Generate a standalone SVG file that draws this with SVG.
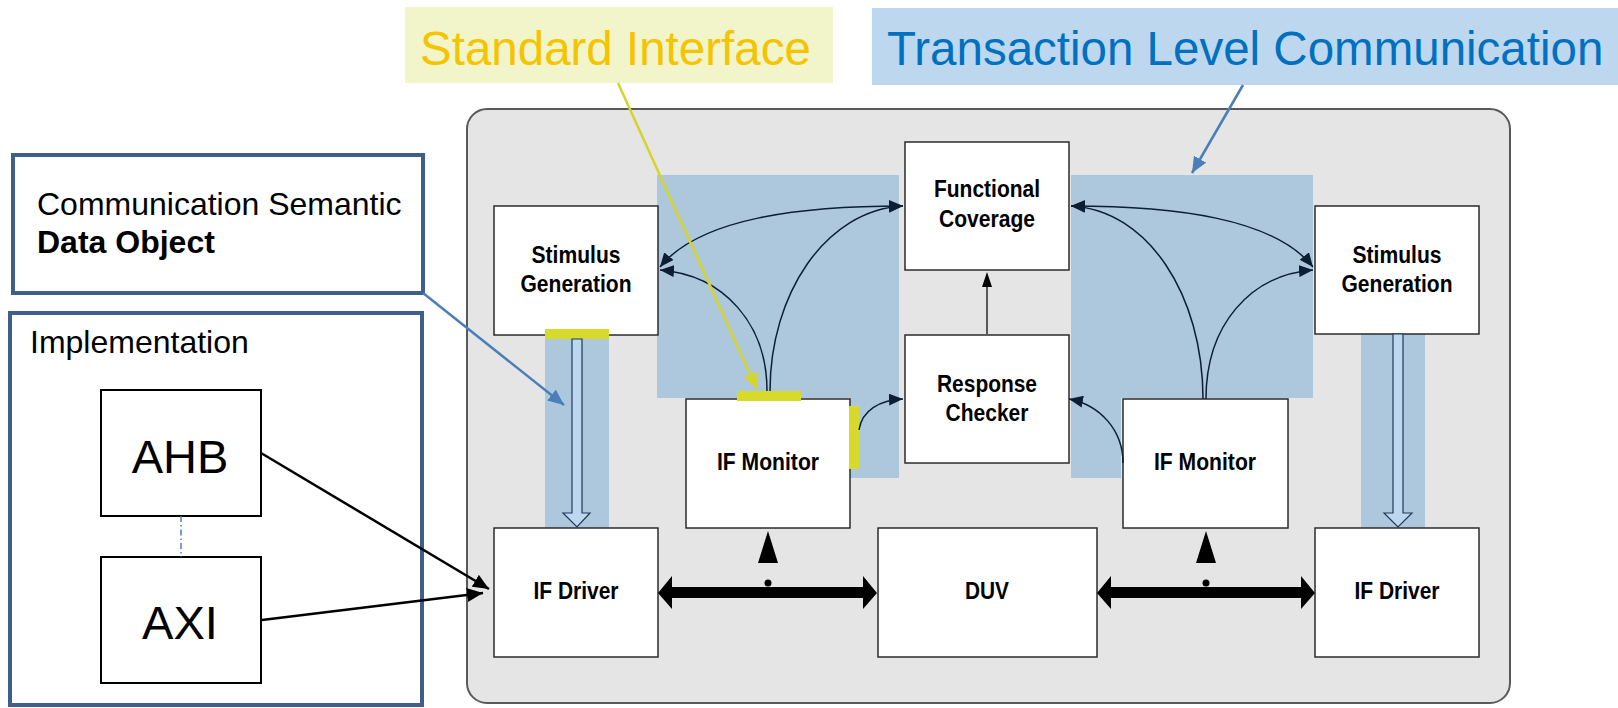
<svg xmlns="http://www.w3.org/2000/svg" width="1618" height="708" viewBox="0 0 1618 708">
<style>
.node{fill:#ffffff;stroke:#2b2b2b;stroke-width:1.5}
.lbl{font-family:"Liberation Sans",Arial,sans-serif;font-weight:bold;font-size:24px;fill:#000;text-anchor:middle}
.big{font-family:"Liberation Sans",Arial,sans-serif;font-size:47.5px}
.side{font-family:"Liberation Sans",Arial,sans-serif;font-size:32px;fill:#000}
.frame{fill:#ffffff;stroke:#3E5F8C;stroke-width:4}
.shade{fill:#ADC7DC}
.ybar{fill:#D8DA2B}
.curve{fill:none;stroke:#0B1E33;stroke-width:1.5}
.chan{fill:#BDD7EE;stroke:#1F3A5A;stroke-width:1.2}
.bus{fill:#000}
</style>
<defs>
<marker id="nv" markerUnits="userSpaceOnUse" markerWidth="16" markerHeight="12" refX="14" refY="6" orient="auto-start-reverse"><path d="M0,0 L14,6 L0,12 Z" fill="#0B1E33"/></marker>
<marker id="bk" markerUnits="userSpaceOnUse" markerWidth="18" markerHeight="14" refX="16" refY="7" orient="auto"><path d="M0,0 L16,7 L0,14 Z" fill="#000"/></marker>
<marker id="bl" markerUnits="userSpaceOnUse" markerWidth="18" markerHeight="14" refX="16" refY="7" orient="auto"><path d="M0,0 L16,7 L0,14 Z" fill="#4A7EBB"/></marker>
<marker id="yl" markerUnits="userSpaceOnUse" markerWidth="18" markerHeight="14" refX="16" refY="7" orient="auto"><path d="M0,0 L16,7 L0,14 Z" fill="#D4D52A"/></marker>
</defs>

<!-- top labels -->
<g id="std-interface">
<rect x="405" y="7" width="428" height="76" fill="#F2F4C9"/>
<text class="big" x="420" y="65" fill="#F5C400">Standard Interface</text>
</g>
<g id="tlm">
<rect x="872" y="8" width="746" height="77" fill="#BDD7EE"/>
<text class="big" x="887" y="65" fill="#0070C0">Transaction Level Communication</text>
</g>

<!-- main panel -->
<rect id="panel" x="467" y="109" width="1043" height="594" rx="20" fill="#E5E5E5" stroke="#595959" stroke-width="2"/>

<!-- shaded regions -->
<g id="shading">
<polygon class="shade" points="657,175 899,175 899,478 850,478 850,398 657,398"/>
<polygon class="shade" points="1071,175 1313,175 1313,398 1121,398 1121,478 1071,478"/>
<rect class="shade" x="545" y="330" width="64" height="198"/>
<rect class="shade" x="1361" y="334" width="64" height="194"/>
</g>

<!-- left side boxes -->
<g id="comm-semantic">
<rect class="frame" x="13" y="155" width="410" height="138"/>
<text class="side" x="37" y="215">Communication Semantic</text>
<text class="side" x="37" y="253" font-weight="bold">Data Object</text>
</g>
<g id="implementation">
<rect class="frame" x="10" y="313" width="412" height="392"/>
<text class="side" x="30" y="353">Implementation</text>
</g>
<g id="ahb">
<rect x="101" y="390" width="160" height="126" fill="#fff" stroke="#000" stroke-width="2"/>
<text x="180" y="473" font-family="Liberation Sans,Arial,sans-serif" font-size="47px" text-anchor="middle">AHB</text>
</g>
<g id="axi">
<rect x="101" y="557" width="160" height="126" fill="#fff" stroke="#000" stroke-width="2"/>
<text x="180" y="639" font-family="Liberation Sans,Arial,sans-serif" font-size="47px" text-anchor="middle">AXI</text>
</g>

<!-- nodes -->
<g id="stim-left">
<rect class="node" x="494" y="206" width="164" height="129"/>
<text class="lbl" x="576" y="263" textLength="89" lengthAdjust="spacingAndGlyphs">Stimulus</text>
<text class="lbl" x="576" y="292" textLength="111" lengthAdjust="spacingAndGlyphs">Generation</text>
</g>
<g id="func-cov">
<rect class="node" x="905" y="142" width="164" height="128"/>
<text class="lbl" x="987" y="197" textLength="106" lengthAdjust="spacingAndGlyphs">Functional</text>
<text class="lbl" x="987" y="227" textLength="96" lengthAdjust="spacingAndGlyphs">Coverage</text>
</g>
<g id="resp-check">
<rect class="node" x="905" y="335" width="164" height="128"/>
<text class="lbl" x="987" y="392" textLength="100" lengthAdjust="spacingAndGlyphs">Response</text>
<text class="lbl" x="987" y="421" textLength="83" lengthAdjust="spacingAndGlyphs">Checker</text>
</g>
<g id="stim-right">
<rect class="node" x="1315" y="206" width="164" height="128"/>
<text class="lbl" x="1397" y="263" textLength="89" lengthAdjust="spacingAndGlyphs">Stimulus</text>
<text class="lbl" x="1397" y="292" textLength="111" lengthAdjust="spacingAndGlyphs">Generation</text>
</g>
<g id="mon-left">
<rect class="node" x="686" y="399" width="164" height="129"/>
<text class="lbl" x="768" y="470" textLength="102" lengthAdjust="spacingAndGlyphs">IF Monitor</text>
</g>
<g id="mon-right">
<rect class="node" x="1123" y="399" width="165" height="129"/>
<text class="lbl" x="1205" y="470" textLength="102" lengthAdjust="spacingAndGlyphs">IF Monitor</text>
</g>
<g id="drv-left">
<rect class="node" x="494" y="528" width="164" height="129"/>
<text class="lbl" x="576" y="599" textLength="85" lengthAdjust="spacingAndGlyphs">IF Driver</text>
</g>
<g id="duv">
<rect class="node" x="878" y="528" width="219" height="129"/>
<text class="lbl" x="987" y="599" textLength="44" lengthAdjust="spacingAndGlyphs">DUV</text>
</g>
<g id="drv-right">
<rect class="node" x="1315" y="528" width="164" height="129"/>
<text class="lbl" x="1397" y="599" textLength="85" lengthAdjust="spacingAndGlyphs">IF Driver</text>
</g>

<!-- interface bars -->
<g id="if-bars">
<rect class="ybar" x="545" y="329" width="64" height="10"/>
<rect class="ybar" x="737" y="391" width="64" height="10"/>
<rect class="ybar" x="849" y="406" width="10" height="63"/>
</g>

<!-- connectors -->
<g id="connectors">
<path class="chan" d="M572,339 L582,339 L582,513 L590,513 L577,527 L563,513 L572,513 Z"/>
<path class="chan" d="M1393,334 L1403,334 L1403,513 L1412,513 L1398,527 L1384,513 L1393,513 Z"/>

<path class="curve" d="M903,206 C800,206 700,218 660,267" marker-start="url(#nv)" marker-end="url(#nv)"/>
<path class="curve" d="M767,391 C767,325 725,275 660,270" marker-end="url(#nv)"/>
<path class="curve" d="M770,391 C770,295 825,210 903,206" marker-end="url(#nv)"/>
<path class="curve" d="M859,430 C862,410 880,400 903,399" marker-end="url(#nv)"/>

<path class="curve" d="M1071,206 C1174,206 1274,218 1313,267" marker-start="url(#nv)" marker-end="url(#nv)"/>
<path class="curve" d="M1206,399 C1206,325 1250,275 1313,270" marker-end="url(#nv)"/>
<path class="curve" d="M1203,399 C1203,295 1148,210 1071,206" marker-end="url(#nv)"/>
<path class="curve" d="M1123,463 C1123,430 1100,405 1069,399" marker-end="url(#nv)"/>

<line x1="987" y1="335" x2="987" y2="286" stroke="#595959" stroke-width="2"/>
<polygon points="987,272 982,287 992,287" fill="#000"/>

<polygon class="bus" points="658,593 672,576 672,587 863,587 863,576 877,593 863,609 863,598 672,598 672,609"/>
<polygon class="bus" points="1097,593 1111,576 1111,587 1301,587 1301,576 1315,593 1301,609 1301,598 1111,598 1111,609"/>
<circle cx="768" cy="583" r="3.5" fill="#000"/>
<polygon points="768,531 758,563 778,563" fill="#000"/>
<circle cx="1206" cy="583" r="3.5" fill="#000"/>
<polygon points="1206,531 1196,563 1216,563" fill="#000"/>

<line x1="181" y1="516" x2="181" y2="557" stroke="#4A7EBB" stroke-width="1.5" stroke-dasharray="6,3,1.5,3"/>
<line x1="261" y1="453" x2="489" y2="589" stroke="#000" stroke-width="2.5" marker-end="url(#bk)"/>
<line x1="262" y1="620" x2="483" y2="593" stroke="#000" stroke-width="2.5" marker-end="url(#bk)"/>

<line x1="423" y1="293" x2="564" y2="405" stroke="#4A7EBB" stroke-width="2.5" marker-end="url(#bl)"/>
<line x1="1243" y1="85" x2="1192" y2="173" stroke="#4A7EBB" stroke-width="2.5" marker-end="url(#bl)"/>
<line x1="618" y1="83" x2="757" y2="389" stroke="#D4D52A" stroke-width="2.5" marker-end="url(#yl)"/>
</g>
</svg>
